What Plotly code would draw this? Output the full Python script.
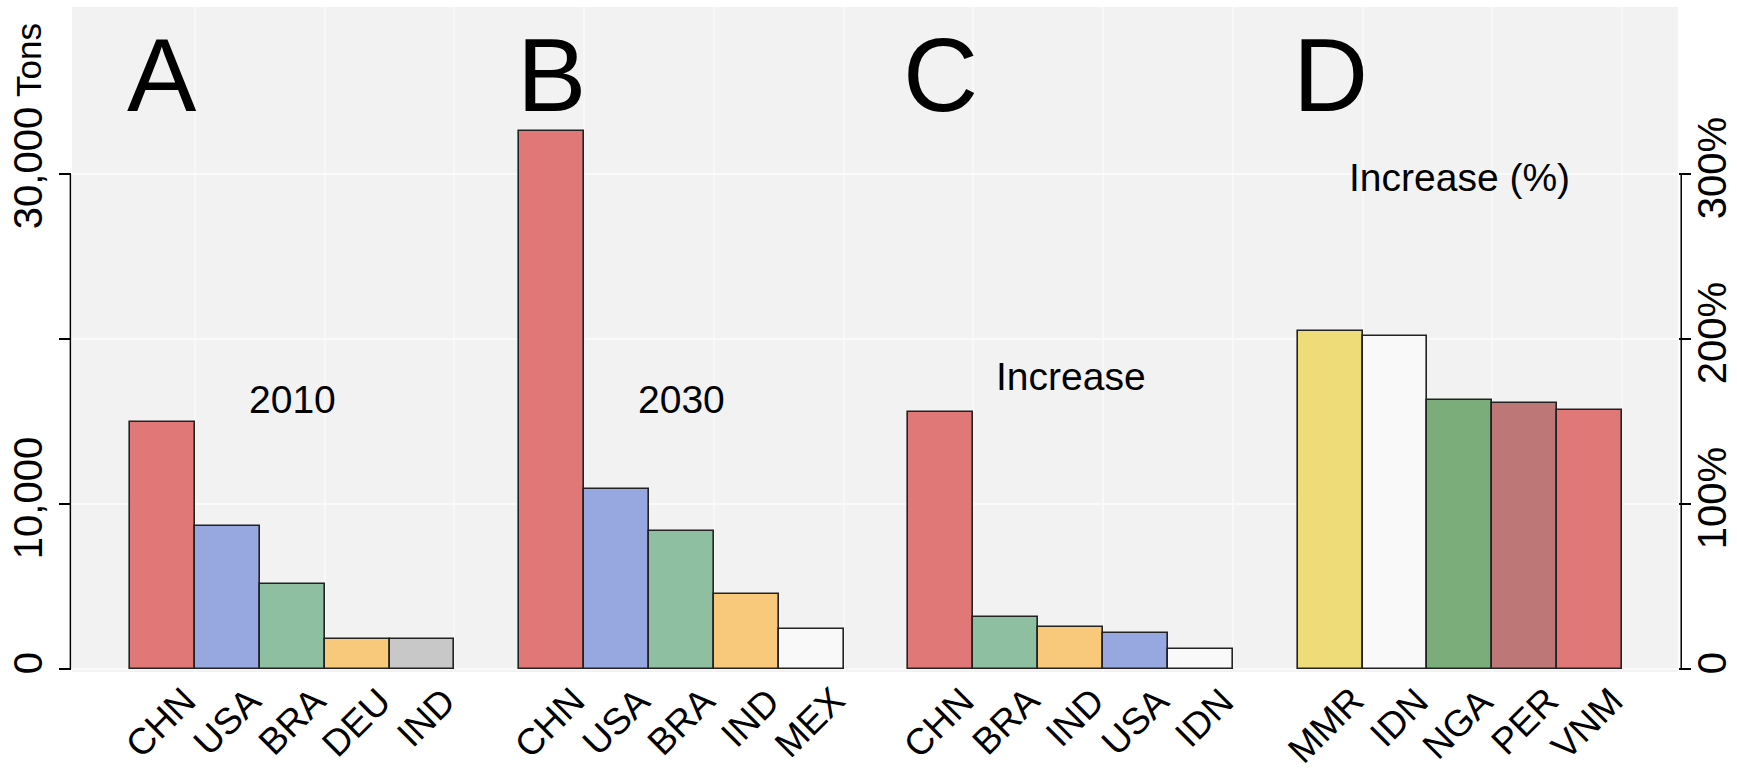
import plotly.graph_objects as go

# ---- data ----
a_countries = ["CHN", "USA", "BRA", "DEU", "IND"]
a_values = [15000, 8660, 5180, 1830, 1830]          # 2010, tons

b_countries = ["CHN", "USA", "BRA", "IND", "MEX"]
b_values = [32600, 10900, 8380, 4530, 2430]         # 2030, tons

c_countries = ["CHN", "BRA", "IND", "USA", "IDN"]
c_values = [15600, 3180, 2570, 2160, 1220]          # increase, tons

d_countries = ["MMR", "IDN", "NGA", "PER", "VNM"]
d_values = [205, 202, 163, 161, 157]                # increase, %

panel_letters = ["A", "B", "C", "D"]
panel_titles = ["2010", "2030", "Increase", "Increase (%)"]

left_ticks = [0, 10000, 20000, 30000]
left_ticktext = ["0", "10,000", "", "30,000"]
right_ticks = [0, 100, 200, 300]
right_ticktext = ["0", "100%", "200%", "300%"]

# ---- styles ----
RED, BLUE, GREEN, ORANGE = "#E07878", "#97A7E0", "#8DBFA0", "#F8C97A"
GRAY, WHITE, YELLOW, DGREEN, MAUVE = "#C8C8C8", "#F9F9F9", "#EEDC78", "#7AAD7A", "#BE7777"
a_colors = [RED, BLUE, GREEN, ORANGE, GRAY]
b_colors = [RED, BLUE, GREEN, ORANGE, WHITE]
c_colors = [RED, GREEN, ORANGE, BLUE, WHITE]
d_colors = [YELLOW, WHITE, DGREEN, MAUVE, RED]

FONT = "Liberation Sans, Arial, sans-serif"
PITCH = 6  # 5 bars + 1 gap per panel

panels = [
    (a_countries, a_values, a_colors, "y"),
    (b_countries, b_values, b_colors, "y"),
    (c_countries, c_values, c_colors, "y"),
    (d_countries, d_values, d_colors, "y2"),
]

fig = go.Figure()
annotations = []
for p, (names, vals, cols, yax) in enumerate(panels):
    xs = [p * PITCH + i for i in range(len(vals))]
    fig.add_trace(go.Bar(
        x=xs, y=vals, width=1, yaxis=yax,
        marker=dict(color=cols, line=dict(color="#222222", width=1.6)),
        showlegend=False, hoverinfo="x+y",
    ))
    for x, n in zip(xs, names):
        annotations.append(dict(
            x=x + 0.68, y=-0.008, xref="x", yref="paper", text=n, showarrow=False,
            textangle=-45, xanchor="right", yanchor="top",
            font=dict(family=FONT, size=37, color="black"),
        ))
    # panel letter
    annotations.append(dict(
        x=p * PITCH, y=36000, xref="x", yref="y", text=panel_letters[p],
        showarrow=False, xanchor="center", yanchor="middle",
        font=dict(family=FONT, size=104, color="black"),
    ))

# panel subtitles
title_y = [16360, 16360, 17700, 29800]
for p, t in enumerate(panel_titles):
    annotations.append(dict(
        x=p * PITCH + 2, y=title_y[p], xref="x", yref="y", text=t,
        showarrow=False, xanchor="center", yanchor="middle",
        font=dict(family=FONT, size=39, color="black"),
    ))

# "Tons" label on the left axis
annotations.append(dict(
    x=-0.0275, y=36900, xref="paper", yref="y", text="Tons", showarrow=False,
    textangle=-90, xanchor="center", yanchor="middle",
    font=dict(family=FONT, size=35, color="black"),
))

shapes = [
    dict(type="line", xref="paper", yref="y", x0=-0.001, x1=-0.001, y0=0, y1=30000,
         line=dict(color="black", width=1.5)),
    dict(type="line", xref="paper", yref="y2", x0=1.002, x1=1.002, y0=0, y1=300,
         line=dict(color="black", width=1.5)),
]

fig.update_layout(
    width=1737, height=775,
    margin=dict(l=72, r=59, t=7, b=103),
    paper_bgcolor="white", plot_bgcolor="#F2F2F2",
    bargap=0,
    font=dict(family=FONT, color="black"),
    xaxis=dict(range=[-1.395, 23.364], showticklabels=False, ticks="",
               showgrid=True, gridcolor="#F8F8F8", gridwidth=2,
               tick0=0.5, dtick=2, zeroline=False, showline=False, fixedrange=True),
    yaxis=dict(range=[-180, 40120], tickvals=left_ticks, ticktext=left_ticktext,
               tickangle=-90, ticks="outside", ticklen=12, tickwidth=1.5, tickcolor="black",
               ticklabelstandoff=1,
               tickfont=dict(family=FONT, size=40, color="black"),
               showgrid=True, gridcolor="#FAFAFA", gridwidth=2,
               zeroline=False, showline=False, automargin=False),
    yaxis2=dict(range=[-1.8, 401.2], overlaying="y", side="right",
                tickvals=right_ticks, ticktext=right_ticktext,
                tickangle=-90, ticks="outside", ticklen=12, tickwidth=1.5, tickcolor="black",
                ticklabelstandoff=-13,
                tickfont=dict(family=FONT, size=40, color="black"),
                showgrid=False, zeroline=False, showline=False, automargin=False),
    annotations=annotations,
    shapes=shapes,
)

fig.write_html("out.html", config={"displayModeBar": False},
               post_script="document.body.style.margin='0';document.body.style.overflow='hidden';")
